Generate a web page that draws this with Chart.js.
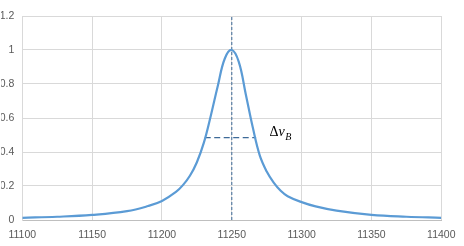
<!DOCTYPE html>
<html>
<head>
<meta charset="utf-8">
<script src="https://cdn.jsdelivr.net/npm/chart.js@4/dist/chart.umd.min.js"></script>
<style>
  html, body { margin: 0; padding: 0; background: #fff; }
  #wrap { position: relative; width: 464px; height: 246px; }
</style>
</head>
<body>
<div id="wrap"><canvas id="chart"></canvas></div>
<script>
// frequency values
const freqs = [11100, 11125, 11150, 11175, 11190, 11200, 11210, 11215, 11220, 11225, 11230,
  11235, 11240, 11245, 11250, 11255, 11260, 11265, 11270, 11275, 11280,
  11285, 11290, 11300, 11310, 11325, 11350, 11375, 11400];
const amplitude = [0.013, 0.019, 0.030, 0.052, 0.082, 0.112, 0.165, 0.205, 0.26, 0.34, 0.455,
  0.615, 0.79, 0.95, 1.0, 0.93, 0.74, 0.545, 0.38, 0.285, 0.22,
  0.172, 0.14, 0.105, 0.08, 0.055, 0.030, 0.019, 0.013];

// marker lines
const peakX = 11250;
const peakLineY = [0, 1.2];
const halfWidthX = [11230.6, 11267.4];
const halfLevel = 0.484;

const xTicks = [11100, 11150, 11200, 11250, 11300, 11350, 11400];
const yTicks = [0, 0.2, 0.4, 0.6, 0.8, 1, 1.2];

const tickFont = { family: "'Liberation Sans', Arial, sans-serif", size: 10.5 };

//etiqueta del ancho de banda
const labelPlugin = {
  id: "bandLabel",
  afterDatasetsDraw(chart) {
    const ctx = chart.ctx;
    const x = chart.scales.x.getPixelForValue(11267.4) + 13.5;
    const y = chart.scales.y.getPixelForValue(halfLevel) - 1.3;
    ctx.save();
    ctx.fillStyle = "#000";
    ctx.textBaseline = "alphabetic";
    ctx.font = "14px 'Liberation Serif', 'DejaVu Serif', serif";
    ctx.fillText("Δ", x, y);
    let w = ctx.measureText("Δ").width;
    ctx.font = "italic 14px 'Liberation Serif', 'DejaVu Serif', serif";
    ctx.fillText("ν", x + w, y);
    w += ctx.measureText("ν").width;
    ctx.font = "italic 10px 'Liberation Serif', 'DejaVu Serif', serif";
    ctx.fillText("B", x + w + 0.5, y + 3.5);
    ctx.restore();
  },
};

const data = {
  datasets: [
    {
      label: "curve",
      data: freqs.map((f, i) => ({ x: f, y: amplitude[i] })),
      borderColor: "#5b9bd5",
      borderWidth: 2.2,
      pointRadius: 0,
      tension: 0.4,
      fill: false,
    },
    {
      label: "peak",
      data: peakLineY.map((v) => ({ x: peakX, y: v })),
      borderColor: "#3d6a98",
      borderWidth: 1,
      borderDash: [3, 2],
      pointRadius: 0,
    },
    {
      label: "half",
      data: halfWidthX.map((v) => ({ x: v, y: halfLevel })),
      borderColor: "#3d6a98",
      borderWidth: 1.2,
      borderDash: [6, 3.5],
      pointRadius: 0,
    },
  ],
};

const config = {
  type: "scatter",
  data: data,
  options: {
    responsive: false,
    animation: false,
    showLine: true,
    layout: { padding: { top: 16, right: 17, left: 0, bottom: 0 } },
    plugins: { legend: { display: false }, tooltip: { enabled: false } },
    scales: {
      x: {
        type: "linear",
        min: 11100,
        max: 11400,
        afterBuildTicks: (scale) => { scale.ticks = xTicks.map((v) => ({ value: v })); },
        afterFit: (scale) => { scale.height = 26; },
        grid: { color: "#d9d9d9", drawTicks: false },
        border: { color: "#bfbfbf" },
        ticks: { color: "#595959", font: tickFont, padding: 8.5, maxRotation: 0, callback: (v) => String(v) },
      },
      y: {
        min: 0,
        max: 1.2,
        afterBuildTicks: (scale) => { scale.ticks = yTicks.map((v) => ({ value: v })); },
        afterFit: (scale) => { scale.width = 21.3; },
        grid: { color: "#d9d9d9", drawTicks: false },
        border: { color: "#d9d9d9" },
        ticks: { color: "#595959", font: tickFont, padding: 8, callback: (v) => String(Math.round(v * 10) / 10) },
      },
    },
  },
  plugins: [labelPlugin],
};

const canvas = document.querySelector("#chart");
canvas.width = 464;
canvas.height = 246;
new Chart(canvas, config);
</script>
</body>
</html>
